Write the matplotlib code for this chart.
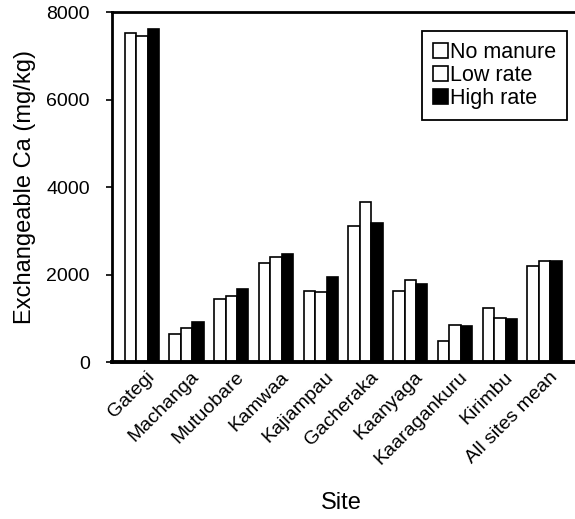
import matplotlib
matplotlib.use('Agg')
import matplotlib.pyplot as plt
import matplotlib.transforms as mtransforms
import numpy as np

plt.rcParams['font.family'] = ['Liberation Sans', 'DejaVu Sans']

# 各试验点交换性钙含量 (mg/kg)
sites = ['Gategi', 'Machanga', 'Mutuobare', 'Kamwaa', 'Kajiampau', 'Gacheraka',
         'Kaanyaga', 'Kaaragankuru', 'Kirimbu', 'All sites mean']
no_manure = [7520, 650, 1430, 2270, 1620, 3110, 1620, 490, 1245, 2190]
low_rate = [7450, 780, 1500, 2400, 1590, 3670, 1875, 840, 1000, 2310]
high_rate = [7610, 910, 1670, 2460, 1945, 3170, 1775, 825, 985, 2320]
series_names = ['No manure', 'Low rate', 'High rate']
y_ticks = [0, 2000, 4000, 6000, 8000]

fig = plt.figure(figsize=(5.75, 5.19), dpi=100)
ax = fig.add_axes([0.1948, 0.3025, 0.8052, 0.6738])

x = np.arange(len(sites))
w = 0.255
ax.bar(x - w, no_manure, w, color='white', edgecolor='black', linewidth=1.2, label=series_names[0])
ax.bar(x, low_rate, w, color='white', edgecolor='black', linewidth=1.2, label=series_names[1])
ax.bar(x + w, high_rate, w, color='black', edgecolor='black', linewidth=1.2, label=series_names[2])

ax.set_xlim(-0.666, 9.68)
ax.set_ylim(0, 8000)
ax.set_yticks(y_ticks)
ax.set_yticklabels([str(v) for v in y_ticks], fontsize=14)
ax.tick_params(axis='y', direction='out', length=4, width=1.2, pad=12)
ax.tick_params(axis='x', length=0, pad=9)

ax.set_xticks(x)
ax.set_xticklabels(sites, rotation=45, ha='right', rotation_mode='anchor',
                   va='center', fontsize=14)
# 标签整体右移一点
offset = mtransforms.ScaledTranslation(0.1, 0, fig.dpi_scale_trans)
for lab in ax.get_xticklabels():
    lab.set_transform(lab.get_transform() + offset)

ax.spines['right'].set_visible(False)
ax.spines['left'].set_linewidth(2)
ax.spines['top'].set_linewidth(2)
ax.spines['bottom'].set_linewidth(2.8)

ax.set_ylabel('Exchangeable Ca (mg/kg)', fontsize=17)
ax.yaxis.set_label_coords(-0.164, 0.5)
ax.set_xlabel('Site', fontsize=17)
ax.xaxis.set_label_coords(0.495, -0.372)

leg = ax.legend(loc='upper right', bbox_to_anchor=(0.983, 0.947), borderaxespad=0,
                fontsize=15.5, handlelength=0.7, handleheight=0.7, handletextpad=0.1,
                labelspacing=0.1, borderpad=0.5, fancybox=False, framealpha=1)
leg.get_frame().set_edgecolor('black')
leg.get_frame().set_linewidth(1.3)

fig.savefig('out.png', dpi=100)
